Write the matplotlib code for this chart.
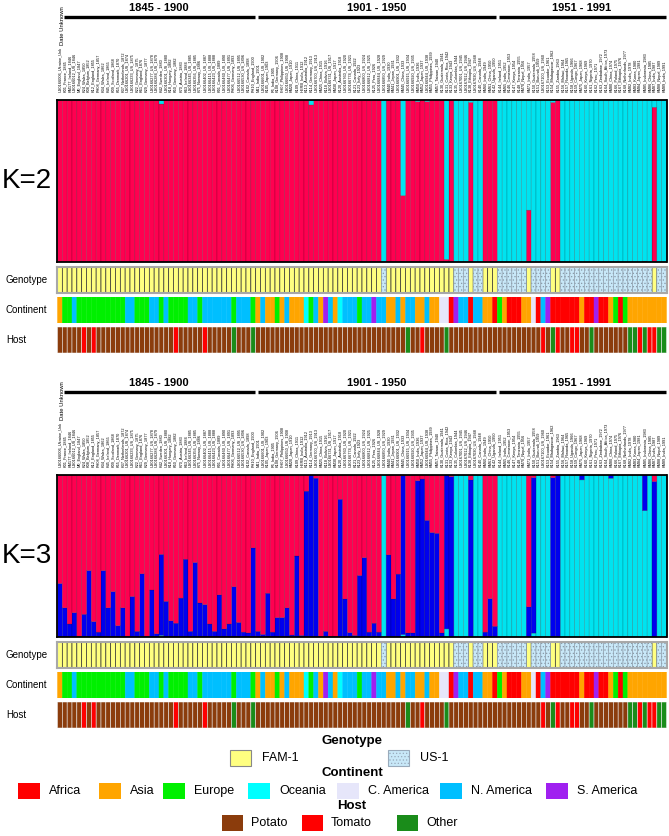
import numpy as np
import matplotlib
matplotlib.use('Agg')
import matplotlib.pyplot as plt
from matplotlib.patches import Rectangle

plt.rcParams['font.family'] = ['Liberation Sans', 'DejaVu Sans']
plt.rcParams['hatch.linewidth'] = 0.5

W, H = 669, 836

# sample names (ID_Country_Year), in plot order
samples = [
    'US0166006_Ukraine_Unk',
    'K01_France_1845', 'KM177_Ireland_1846', 'US0166012_US_1846', 'M0_England_1847', 'K24_Wales_1850',
    'K08_Belgium_1852', 'K12_England_1855', 'PH08_Germany_1857', 'K34_Wales_1862', 'K45_Ireland_1865',
    'K09_Scotland_1868', 'K55_Denmark_1870', 'K37_Netherlands_1872', 'US0166201_US_1874', 'US0166233_US_1875',
    'K22_Germany_1875', 'K61_England_1876', 'K29_Germany_1877', 'US0166277_US_1878', 'US0166284_US_1879',
    'K42_Sweden_1880', 'US0166301_US_1880', 'K18_Hungary_1882', 'K50_Germany_1882', 'K70_Austria_1883',
    'K63_Ireland_1884', 'US0166345_US_1885', 'US0166356_US_1885', 'K75_Norway_1886', 'US0166402_US_1887',
    'US0166415_US_1888', 'US0166423_US_1888', 'K91_Canada_1889', 'US0166460_US_1890', 'US0166477_US_1891',
    'PH06_Germany_1893', 'US0166512_US_1895', 'US0166530_US_1896', 'K102_Canada_1898', 'PH10_England_1900',
    'M11_India_1901', 'US0166601_US_1902', 'K105_Japan_1903', 'P6_India_1905', 'K108_Germany_1906',
    'FH07_Philippines_1908', 'US0166650_US_1908', 'KM20_Japan_1910', 'K109_China_1911', 'HERB_India_1912',
    'K113_Australia_1912', 'K114_Germany_1913', 'US0166700_US_1913', 'KM25_China_1915', 'K118_Bolivia_1916',
    'US0166731_US_1917', 'KM30_Japan_1917', 'K120_Australia_1918', 'US0166760_US_1920', 'US0166774_US_1921',
    'K121_Canada_1922', 'K123_Italy_1923', 'US0166800_US_1924', 'US0166812_US_1925', 'K125_Peru_1926',
    'US0166844_US_1928', 'US0166850_US_1929', 'KM40_India_1930', 'KM41_Japan_1931', 'US0166901_US_1932',
    'KM45_China_1933', 'US0166915_US_1934', 'US0166920_US_1935', 'KM50_India_1936', 'KM52_Japan_1937',
    'US0166944_US_1938', 'KM55_Philippines_1939', 'KM57_Taiwan_1940', 'K130_Guatemala_1941', 'K131_Costa_Rica_1942',
    'K133_Kenya_1943', 'K135_Colombia_1944', 'US0167001_US_1945', 'US0167012_US_1946', 'K138_Ethiopia_1947',
    'US0167030_US_1948', 'K140_Canada_1948', 'KM60_India_1949', 'KM61_China_1950', 'K142_Uganda_1950',
    'K144_Ireland_1951', 'KM65_India_1952', 'K146_Cameroon_1953', 'K147_Kenya_1954', 'K148_Tanzania_1955',
    'KM70_Nepal_1956', 'KM71_India_1957', 'K150_Guatemala_1958', 'K151_Burundi_1959', 'US0167100_US_1960',
    'K153_Ecuador_1961', 'K154_Madagascar_1962', 'K155_Zambia_1963', 'K156_Malawi_1964', 'K157_Rwanda_1965',
    'K158_Uganda_1966', 'K159_Congo_1967', 'KM75_Japan_1968', 'K160_Kenya_1969', 'K161_Nigeria_1970',
    'K162_Peru_1971', 'K163_Zimbabwe_1972', 'K164_South_Africa_1973', 'KM80_China_1974', 'K166_Poland_1975',
    'K167_Ethiopia_1976', 'K168_Netherlands_1977', 'KM82_India_1978', 'KM83_Korea_1980', 'KM84_Japan_1981',
    'KM85_Indonesia_1983', 'KM86_China_1985', 'KM87_India_1987', 'KM88_Nepal_1989', 'KM89_India_1991',
]

# F = FAM-1, U = US-1
genotype = list(
    'FFFFFFFFFF' 'FFFFFFFFFF' 'FFFFFFFFFF' 'FFFFFFFFFF' 'FFFFFFFFFF' 'FFFFFFFFFF'
    'FFFFFFFUFF' 'FFFFFFFFFF' 'FFUUUFUUFF' 'FUUUUUUFUU' 'UUFFUUUUUU' 'UUUUUUUUUU'
    'UUUFUU'
)

continent = [
    'As', 'Eu', 'Eu', 'NA', 'Eu', 'Eu', 'Eu', 'Eu', 'Eu', 'Eu',
    'Eu', 'Eu', 'Eu', 'Eu', 'NA', 'NA', 'Eu', 'Eu', 'Eu', 'NA',
    'NA', 'Eu', 'NA', 'Eu', 'Eu', 'Eu', 'Eu', 'NA', 'NA', 'Eu',
    'NA', 'NA', 'NA', 'NA', 'NA', 'NA', 'Eu', 'NA', 'NA', 'NA',
    'Eu', 'As', 'NA', 'As', 'As', 'Eu', 'As', 'NA', 'As', 'As',
    'As', 'Oc', 'Eu', 'NA', 'As', 'SA', 'NA', 'As', 'Oc', 'NA',
    'NA', 'NA', 'Eu', 'NA', 'NA', 'SA', 'NA', 'NA', 'As', 'As',
    'NA', 'As', 'NA', 'NA', 'As', 'As', 'NA', 'As', 'As', 'CA',
    'CA', 'Af', 'SA', 'NA', 'NA', 'Af', 'NA', 'NA', 'As', 'As',
    'Af', 'Eu', 'As', 'Af', 'Af', 'Af', 'As', 'As', 'CA', 'Af',
    'NA', 'SA', 'Af', 'Af', 'Af', 'Af', 'Af', 'Af', 'As', 'Af',
    'Af', 'SA', 'Af', 'Af', 'As', 'Eu', 'Af', 'Eu', 'As', 'As',
    'As', 'As', 'As', 'As', 'As', 'As',
]

# P = Potato, T = Tomato, O = Other
host = list(
    'PPPPPTPTPP' 'PPPPPPPPPP' 'PPPPTPPPPP' 'TPPPPPOPPP' 'OPPPPPPPPP' 'PPPPPPPPPP'
    'PPPPPPPPPP' 'PPOPPTPPPP' 'OPPPPPPPPP' 'PPPPPPPPPP' 'TPOTPPTTPP' 'OPPPPPPPOO'
    'TOTTOO'
)

# K=2 membership: share of the cyan cluster (rest is red)
k2_cyan = [
    0, 0, 0, 0, 0, 0, 0, 0, 0, 0,
    0, 0, 0, 0, 0, 0, 0, 0, 0, 0,
    0, 0.025, 0, 0, 0, 0, 0, 0, 0, 0,
    0, 0, 0, 0, 0, 0, 0, 0, 0, 0,
    0, 0, 0, 0, 0, 0, 0, 0, 0, 0,
    0, 0, 0.03, 0, 0, 0, 0, 0, 0, 0,
    0, 0, 0, 0, 0, 0, 0, 1.0, 0, 0,
    0, 0.59, 0, 0, 0.01, 0, 0.01, 0, 0, 0,
    0.984, 0, 1, 1, 1, 0.015, 1, 1, 0, 0,
    0, 1, 1, 1, 1, 1, 1, 0.68, 1, 1,
    1, 1, 0.015, 0, 1, 1, 1, 1, 1, 1,
    1, 1, 1, 1, 1, 1, 1, 1, 1, 1,
    1, 0.995, 1, 0.045, 1, 1,
]

# K=3 membership: blue and cyan shares (rest is red)
k3_blue = [
    .33, .18, .08, .15, .005, .14, .41, .095, .03, .41,
    .18, .28, .07, .18, .005, .25, .035, .39, .005, .29,
    .02, .50, .22, .10, .085, .24, .48, .035, .46, .21,
    .20, .08, .035, .26, .05, .08, .31, .09, .03, .025,
    .55, .035, .016, .27, .03, .12, .12, .18, .012, .50,
    .01, .90, 1.0, .98, .003, .035, .003, .003, .85, .235,
    .027, .01, .38, .49, .03, .085, .03, 0, .507, .235,
    .388, .98, .025, .025, .965, .975, .72, .645, .64, .025,
    .95, .99, 0, 0, 0, .97, 0, 0, .03, .237,
    .066, 0, 0, 0, 0, 0, 0, .186, .96, 0,
    0, 0, .984, 1.0, 0, 0, 0, 0, .03, 0,
    0, 0, 0, 0, .02, 0, 0, 0, 0, 0,
    0, .22, 0, .96, 0, 0,
]
k3_cyan = [
    0, 0, 0, 0, 0, 0, 0, 0, 0, 0,
    0, 0, 0, 0, 0, 0, 0, 0, 0, 0,
    0, .01, 0, 0, 0, 0, 0, 0, 0, 0,
    0, 0, 0, 0, 0, 0, 0, 0, 0, 0,
    0, 0, 0, 0, 0, 0, 0, 0, 0, 0,
    0, 0, 0, 0, 0, 0, 0, 0, 0, 0,
    0, 0, 0, 0, 0, 0, 0, 1, 0, 0,
    0, .015, 0, 0, 0, 0, 0, 0, 0, 0,
    .05, 0, 1, 1, 1, 0, 1, 1, 0, 0,
    0, 1, 1, 1, 1, 1, 1, 0, .024, 1,
    1, 1, 0, 0, 1, 1, 1, 1, .97, 1,
    1, 1, 1, 1, .98, 1, 1, 1, 1, 1,
    1, .78, 1, 0, 1, 1,
]

periods = ['1845 - 1900', '1901 - 1950', '1951 - 1991']
period_first = [1, 41, 91]
period_last = [40, 90, 125]

geno_names = {'F': 'FAM-1', 'U': 'US-1'}
cont_names = {'Af': 'Africa', 'As': 'Asia', 'Eu': 'Europe', 'Oc': 'Oceania',
              'CA': 'C. America', 'NA': 'N. America', 'SA': 'S. America'}
host_names = {'P': 'Potato', 'T': 'Tomato', 'O': 'Other'}

# colours
RED, CYAN, BLUE = '#ff0050', '#00e3f0', '#0000ee'
geno_col = {'F': '#ffff80', 'U': '#c8e8f8'}
cont_col = {'Af': '#ff0000', 'As': '#ffa500', 'Eu': '#00f000', 'Oc': '#00ffff',
            'CA': '#e6e6fa', 'NA': '#00bfff', 'SA': '#a020f0'}
host_col = {'P': '#8b3c0c', 'T': '#ff0000', 'O': '#1a8c1a'}

N = len(samples)
x = np.arange(N)
X0, X1 = 57.5, 666.5

fig = plt.figure(figsize=(W / 100, H / 100), dpi=100)


def ax_px(x0, y0, x1, y1):
    return fig.add_axes([x0 / W, 1 - y1 / H, (x1 - x0) / W, (y1 - y0) / H])


def clean(ax):
    ax.set_xlim(-0.5, N - 0.5)
    ax.set_xticks([])
    ax.set_yticks([])


def draw_panel(yo, klabel, stacks):
    # header: periods and sample names
    hd = ax_px(X0, yo, X1, yo + 98)
    clean(hd)
    hd.set_ylim(98, 0)
    hd.axis('off')
    for name, a, b in zip(periods, period_first, period_last):
        hd.text((a + b) / 2, 8, name, ha='center', va='center', fontsize=8, fontweight='bold')
        hd.plot([a - 0.5 + 0.4, b + 0.5 - 0.2], [17, 17], color='black', lw=2.4,
                solid_capstyle='butt')
    hd.text(0.6, 45, 'Date Unknown', rotation=90, ha='center', va='bottom', fontsize=4.2)
    for i, s in enumerate(samples):
        hd.text(i, 92, s, rotation=90, ha='center', va='bottom', fontsize=2.8,
                color='black')

    # membership bars
    ax = ax_px(X0, yo + 100, X1, yo + 262)
    clean(ax)
    ax.set_ylim(0, 1)
    bottom = np.zeros(N)
    for vals, col in stacks:
        vals = np.asarray(vals, dtype=float)
        ax.bar(x, vals, width=1.0, bottom=bottom, color=col,
               edgecolor=(0, 0, 0, 0.3), linewidth=0.35, snap=False)
        bottom = bottom + vals
    for sp in ax.spines.values():
        sp.set_linewidth(1.3)
    fig.text(27 / W, 1 - (yo + 181) / H, klabel, ha='center', va='center', fontsize=20)

    # genotype row
    g = ax_px(X0, yo + 267, X1, yo + 293)
    clean(g)
    g.set_ylim(0, 1)
    for code in ['F', 'U']:
        idx = [i for i in range(N) if genotype[i] == code]
        if code == 'F':
            g.bar(idx, 1, width=1.0, color=geno_col[code], edgecolor='#333333',
                  linewidth=0.5, snap=False)
        else:
            g.bar(idx, 1, width=1.0, color=geno_col[code], edgecolor='#8a9aa8',
                  linewidth=0.4, hatch='.....', snap=False)
    for sp in g.spines.values():
        sp.set_color('#a8a8a8')
        sp.set_linewidth(1.5)

    # continent row
    c = ax_px(X0, yo + 297, X1, yo + 323)
    clean(c)
    c.set_ylim(0, 1)
    c.bar(x, 1, width=1.0, color=[cont_col[k] for k in continent],
          edgecolor=[cont_col[k] for k in continent], linewidth=0.3, snap=False)
    for sp in c.spines.values():
        sp.set_visible(False)

    # host row
    h = ax_px(X0, yo + 327, X1, yo + 353)
    clean(h)
    h.set_ylim(0, 1)
    h.bar(x, 1, width=1.0, color=[host_col[k] for k in host], edgecolor='#e8e8e8',
          linewidth=0.4, snap=False)
    for sp in h.spines.values():
        sp.set_visible(False)

    for lab, yy in [('Genotype', 280), ('Continent', 310), ('Host', 340)]:
        fig.text(6 / W, 1 - (yo + yy) / H, lab, ha='left', va='center', fontsize=7)


k2_red = 1 - np.array(k2_cyan)
draw_panel(0, 'K=2', [(k2_red, RED), (k2_cyan, CYAN)])

k3_red = np.clip(1 - np.array(k3_blue) - np.array(k3_cyan), 0, 1)
draw_panel(375, 'K=3', [(k3_cyan, CYAN), (k3_blue, BLUE), (k3_red, RED)])

# legend
lg = ax_px(0, 730, W, H)
lg.set_xlim(0, W)
lg.set_ylim(H, 730)
lg.axis('off')

lg.text(352, 741, 'Genotype', ha='center', va='center', fontsize=9.5, fontweight='bold')
for code, px, tx in [('F', 230, 262), ('U', 388, 420)]:
    lg.add_patch(Rectangle((px, 750), 21, 16, facecolor=geno_col[code],
                           edgecolor='#888888' if code == 'F' else '#99aabb', linewidth=0.8,
                           hatch=None if code == 'F' else '.....'))
    lg.text(tx, 758, geno_names[code], ha='left', va='center', fontsize=9)

lg.text(352, 773, 'Continent', ha='center', va='center', fontsize=9.5, fontweight='bold')
cont_keys = ['Af', 'As', 'Eu', 'Oc', 'CA', 'NA', 'SA']
cont_px = [18, 99, 163, 248, 337, 440, 546]
for code, px in zip(cont_keys, cont_px):
    lg.add_patch(Rectangle((px, 783), 22, 16, facecolor=cont_col[code], edgecolor='none'))
    lg.text(px + 31, 791, cont_names[code], ha='left', va='center', fontsize=9)

lg.text(352, 806, 'Host', ha='center', va='center', fontsize=9.5, fontweight='bold')
host_keys = ['P', 'T', 'O']
host_px = [222, 302, 397]
for code, px in zip(host_keys, host_px):
    lg.add_patch(Rectangle((px, 815), 21, 16, facecolor=host_col[code], edgecolor='none'))
    lg.text(px + 29, 823, host_names[code], ha='left', va='center', fontsize=9)

fig.savefig('out.png', dpi=100)
